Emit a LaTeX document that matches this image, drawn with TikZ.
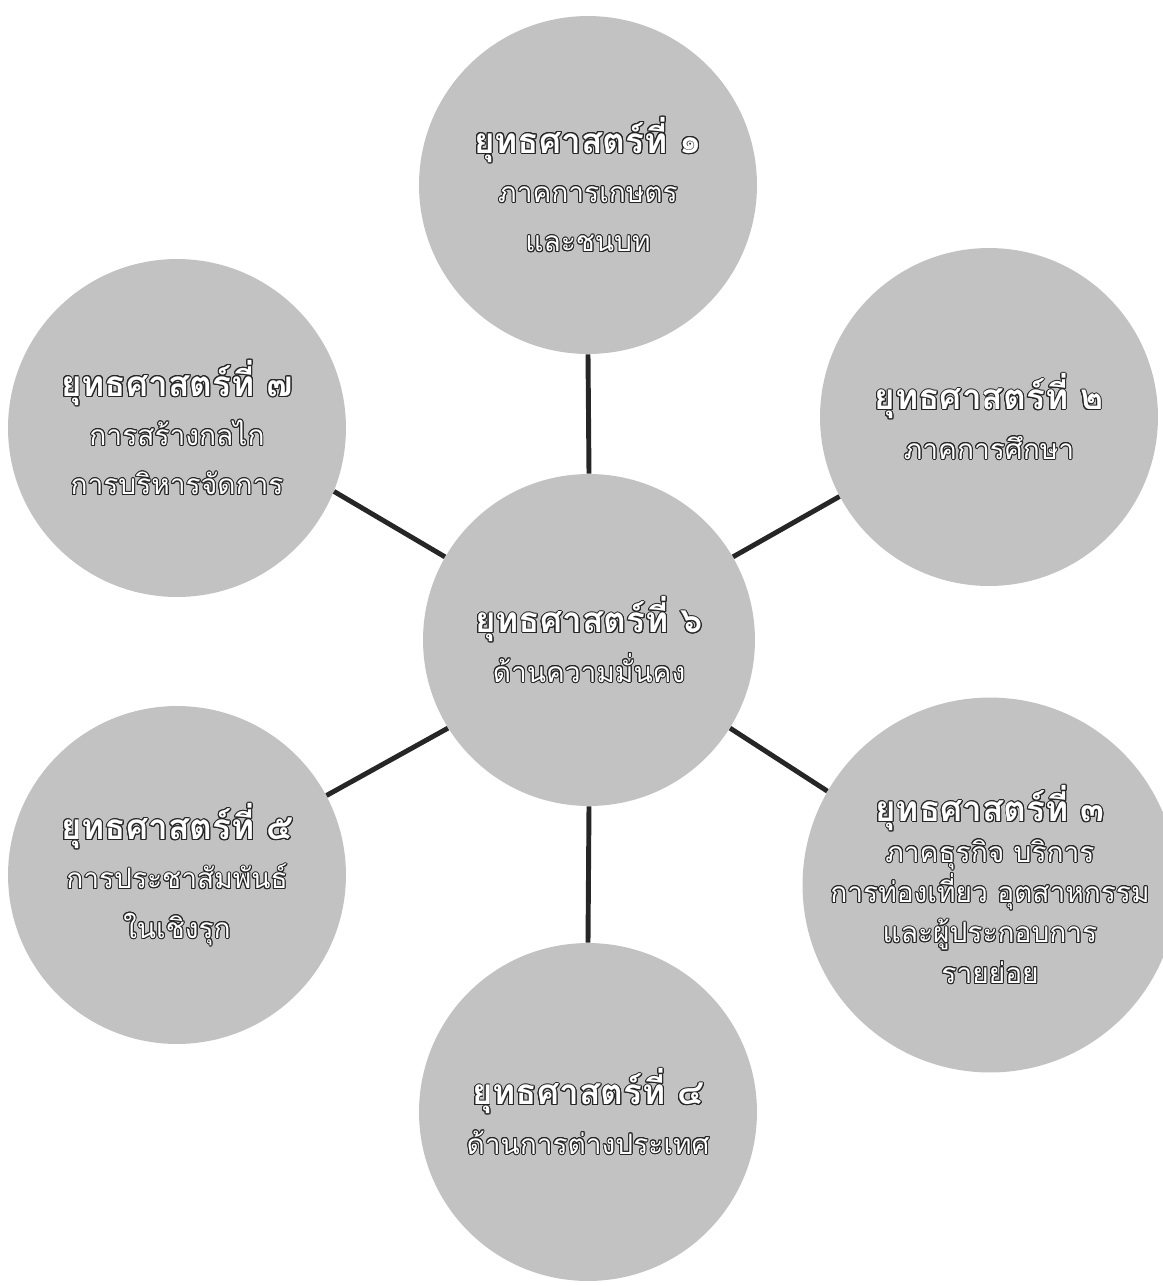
\documentclass[tikz,border=0pt]{standalone}
\usepackage{fontspec}
\usepackage[copies]{contour}
\newfontfamily\thaifont[Script=Thai]{Loma}
\definecolor{stratgray}{RGB}{194,194,194}
\contourlength{0.55pt}
\newcommand{\headln}[1]{{\fontsize{20}{28}\selectfont\bfseries\contour{black!85}{#1}}}
\newcommand{\bodyln}[1]{\contour{black!85}{#1}}

\begin{document}
\begin{tikzpicture}[x=0.02cm, y=-0.02cm,
  sector/.style={circle, fill=stratgray, minimum size=6.76cm, inner sep=0pt, align=center, text=white, font={\thaifont\fontsize{16}{28}\selectfont}},
  hub/.style={sector, minimum size=6.64cm},
  link/.style={draw=black!85, line width=2.8pt}]
  \useasboundingbox (0,0) rectangle (1163,1286);

  % Strategy circles
  \node[hub]    (s6) at (589,640)  {\headln{ยุทธศาสตร์ที่ ๖}\\ \bodyln{ด้านความมั่นคง}};
  \node[sector] (s1) at (588,185)  {\headln{ยุทธศาสตร์ที่ ๑}\\ \bodyln{ภาคการเกษตร}\\ \bodyln{และชนบท}};
  \node[sector] (s2) at (989,417)  {\headln{ยุทธศาสตร์ที่ ๒}\\ \bodyln{ภาคการศึกษา}};
  \node[sector, font={\thaifont\fontsize{16}{23}\selectfont}] (s3) at (990,885)
    {\headln{ยุทธศาสตร์ที่ ๓}\\ \bodyln{ภาคธุรกิจ บริการ}\\ \bodyln{การท่องเที่ยว อุตสาหกรรม}\\ \bodyln{และผู้ประกอบการ}\\ \bodyln{รายย่อย}};
  \node[sector] (s4) at (588,1112) {\headln{ยุทธศาสตร์ที่ ๔}\\ \bodyln{ด้านการต่างประเทศ}};
  \node[sector] (s5) at (177,875)  {\headln{ยุทธศาสตร์ที่ ๕}\\ \bodyln{การประชาสัมพันธ์}\\ \bodyln{ในเชิงรุก}};
  \node[sector] (s7) at (177,428)  {\headln{ยุทธศาสตร์ที่ ๗}\\ \bodyln{การสร้างกลไก}\\ \bodyln{การบริหารจัดการ}};

  % Links leave the centre at fixed angles
  \draw[link] (s6.90)  -- (s1.270);
  \draw[link] (s6.30)  -- (s2.208);
  \draw[link] (s6.-32) -- (s3.150);
  \draw[link] (s6.270) -- (s4.90);
  \draw[link] (s6.212) -- (s5.28);
  \draw[link] (s6.150) -- (s7.-22);
\end{tikzpicture}
\end{document}
